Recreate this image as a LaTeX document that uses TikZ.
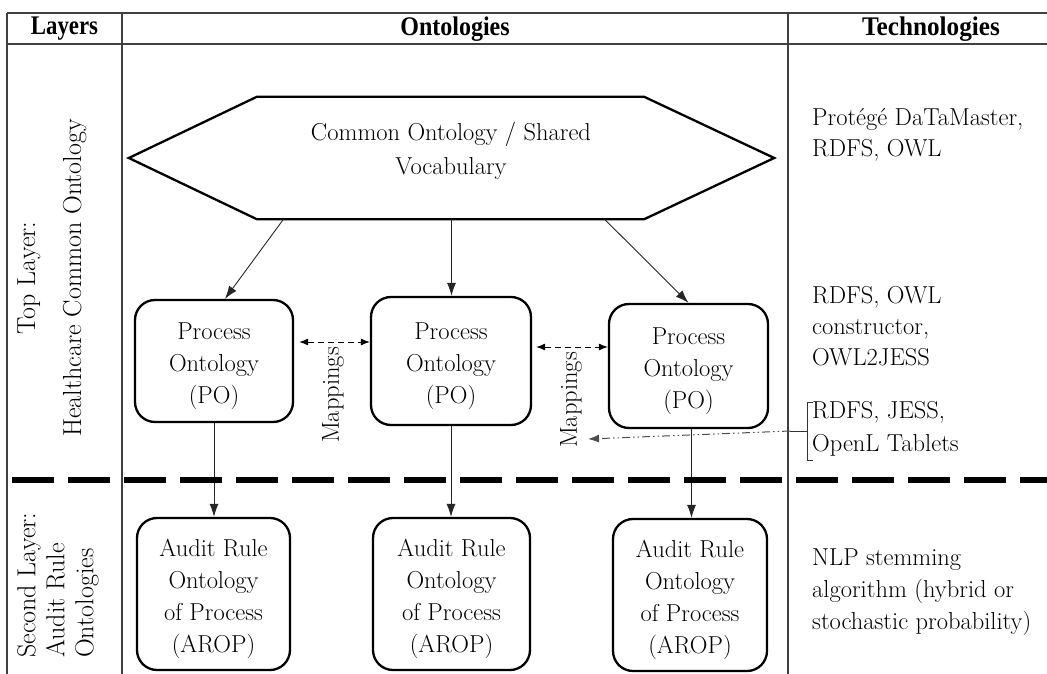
\documentclass[tikz,border=0pt]{standalone}
\usepackage{fontspec}
\newfontfamily\hdfont{Liberation Serif}
\usetikzlibrary{arrows.meta,calc}
\newcommand{\dnstrut}{\rule{0pt}{27pt}}
\begin{document}
\begin{tikzpicture}[x=1pt,y=-1pt,
  txt/.style={font=\fontsize{24.5}{31}\selectfont, align=center},
  lbl/.style={font=\fontsize{26}{30}\selectfont, rotate=90},
  obox/.style={draw, line width=2.3pt, rounded corners=20pt, inner sep=0pt, font=\fontsize{24.5}{32}\selectfont, align=center},
  tline/.style={line width=1.3pt, black!75},
  conn/.style={line width=0.9pt, black!85, -{Latex[length=13pt,width=9pt]}},
  mapar/.style={line width=1pt, dash pattern=on 6pt off 4pt, {Latex[length=9pt,width=7pt]}-{Latex[length=9pt,width=7pt]}},
  dotarrow/.style={line width=1pt, black!70, dash pattern=on 8pt off 3pt on 1.5pt off 3pt on 1.5pt off 3pt, -{Latex[length=11pt,width=8pt]}},
  hd/.style={font=\hdfont\bfseries\fontsize{24}{28}\selectfont},
  techtxt/.style={font=\fontsize{24.5}{31}\selectfont, align=left, anchor=west, inner sep=2pt}
]
\useasboundingbox (0,0) rectangle (1047,674);
% table
\draw[tline] (7,13) -- (1047,13);
\draw[tline] (7,44) -- (1047,44);
\draw[tline] (7,13) -- (7,674);
\draw[tline] (122,13) -- (122,674);
\draw[tline] (788,13) -- (788,674);
% headers
\node[hd] (hL) at (64.5,29) {\scalebox{0.95}[1.12]{Layers}};
\node[hd] (hO) at (455,29) {\scalebox{1}[1.12]{Ontologies}};
\node[hd] (hT) at (931,29) {\scalebox{1.05}[1.12]{Technologies}};
% layer labels
\node[lbl, align=center] (l1) at (52,278) {Top Layer:\\[16pt]Healthcare Common Ontology};
\node[lbl, align=left, anchor=north west, inner sep=0pt] (l2) at (17,658) {Second Layer:\\[-1pt]Audit Rule\\[-1pt]Ontologies};
% hexagon
\node[minimum width=645pt, minimum height=122pt, inner sep=0pt] (hex) at (451.5,158) {};
\draw[line width=2.3pt, line join=miter]
  (hex.west) -- ($(hex.north west)+(128,0)$) -- ($(hex.north east)+(-130,0)$) -- (hex.east)
  -- ($(hex.south east)+(-130,0)$) -- ($(hex.south west)+(128,0)$) -- cycle;
\node[txt] (hext) at (451,151) {Common Ontology / Shared\\[3pt]Vocabulary};
% process ontologies
\node[obox, minimum width=158pt, minimum height=122pt] (po1) at (214,361) {\dnstrut Process\\Ontology\\(PO)};
\node[obox, minimum width=160pt, minimum height=128pt] (po2) at (451,361) {\dnstrut Process\\Ontology\\(PO)};
\node[obox, minimum width=159pt, minimum height=124pt] (po3) at (688.5,366) {\dnstrut Process\\Ontology\\(PO)};
% audit rule ontologies
\node[obox, minimum width=153pt, minimum height=152pt] (ar1) at (213.5,594) {\dnstrut Audit Rule\\Ontology\\of Process\\(AROP)};
\node[obox, minimum width=157pt, minimum height=152pt] (ar2) at (451.5,594) {\dnstrut Audit Rule\\Ontology\\of Process\\(AROP)};
\node[obox, minimum width=154pt, minimum height=152pt] (ar3) at (690,595) {\dnstrut Audit Rule\\Ontology\\of Process\\(AROP)};
% hexagon to PO
\draw[conn] ($(hex.south)+(-168,0)$) -- ($(po1.north)+(11,0)$);
\draw[conn] (hex.south) -- (hex.south |- po2.north);
\draw[conn] ($(hex.south)+(153,0)$) -- (po3.north);
% PO to AROP
\draw[conn] (po1.south) -- (po1.south |- ar1.north);
\draw[conn] (po2.south) -- (po2.south |- ar2.north);
\draw[conn] ($(po3.south)+(3,0)$) -- ($(po3.south |- ar3.north)+(3,0)$);
% mappings
\coordinate (m1) at ($(po1.east)+(5,-19)$);
\coordinate (m2) at ($(po2.east)+(4,-14)$);
\draw[mapar] (m1) -- (m1 -| po2.west);
\draw[mapar] (m2) -- (m2 -| po3.west);
\node[txt, rotate=90] (map1) at (333,395) {Mappings};
\node[txt, rotate=90] (map2) at (571,400) {Mappings};
% technologies
\node[techtxt] (t1) at (810,135) {Protégé DaTaMaster,\\RDFS, OWL};
\node[techtxt] (t2) at (810,326) {RDFS, OWL\\constructor,\\OWL2JESS};
\node[techtxt, font=\fontsize{24.5}{33}\selectfont] (t3) at (810,429) {RDFS, JESS,\\OpenL Tablets};
\node[techtxt, font=\fontsize{24.5}{32}\selectfont] (t4) at (810,592) {NLP stemming\\algorithm (hybrid or\\stochastic probability)};
% bracket and dash-dot arrow
\draw[line width=1pt, black!80] (813,402) -- (807,402) -- (807,460) -- (813,460);
\coordinate (bt) at (790,431);
\coordinate (mapend) at (588,439);
\draw[line width=1pt, black!80] (807,431) -- (bt);
\draw[dotarrow] (bt) -- (mapend);
% layer separator
\draw[line width=6pt, dash pattern=on 42pt off 14pt] (12,480) -- (1047,480);
\end{tikzpicture}
\end{document}
